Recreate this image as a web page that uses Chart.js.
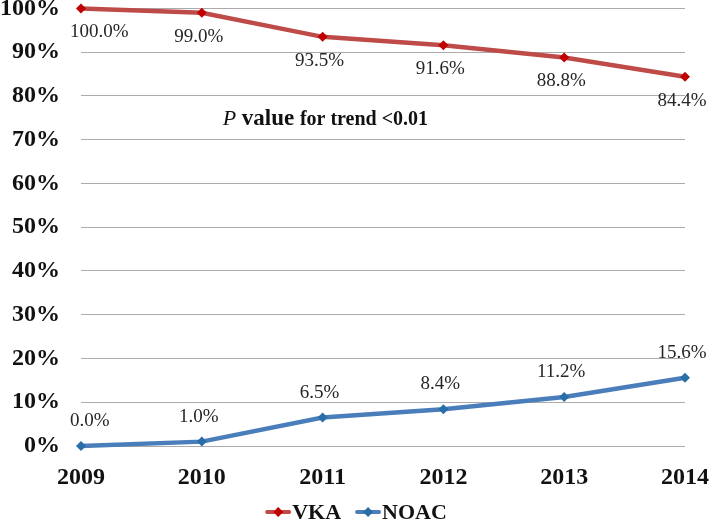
<!DOCTYPE html>
<html>
<head>
<meta charset="utf-8">
<script src="https://cdn.jsdelivr.net/npm/chart.js@4"></script>
<style>
  html,body{margin:0;padding:0;background:#fff;}
  #wrap{width:709px;height:521px;}
</style>
</head>
<body>
<div id="wrap"><canvas id="chart" width="709" height="521"></canvas></div>
<script>
// --------- данные ---------
const years=['2009','2010','2011','2012','2013','2014'];
const vka=[100.0,99.0,93.5,91.6,88.8,84.4];
const noac=[0.0,1.0,6.5,8.4,11.2,15.6];
const yTicks=[0,10,20,30,40,50,60,70,80,90,100];

const SERIF='"Liberation Serif","Times New Roman",serif';
const VKA_LINE='#BE4B48', VKA_MARK='#C00000';
const NOAC_LINE='#4A7EBB', NOAC_MARK='#2A6EA8';

// --------- подписи значений ---------
const valueLabels={
  id:'valueLabels',
  afterDatasetsDraw(chart){
    const ctx=chart.ctx;
    ctx.save();
    ctx.font='19px '+SERIF;
    ctx.fillStyle='#262626';
    ctx.textBaseline='middle';
    chart.data.datasets.forEach((ds,di)=>{
      const meta=chart.getDatasetMeta(di);
      const dy=ds.labelPos==='below'?24:-25;
      meta.data.forEach((pt,i)=>{
        const txt=ds.data[i].toFixed(1)+'%';
        if(i===0){ctx.textAlign='left';ctx.fillText(txt,pt.x-11,pt.y+dy);}
        else{ctx.textAlign='center';ctx.fillText(txt,pt.x-3,pt.y+dy);}
      });
    });
    ctx.restore();
  }
};

// --------- аннотация P value ---------
const pNote={
  id:'pNote',
  afterDraw(chart){
    const ctx=chart.ctx;
    const x0=chart.scales.x.getPixelForValue(1)+21;
    const y=chart.scales.y.getPixelForValue(75);
    const parts=[
      {t:'P ',f:'italic 22px '+SERIF},
      {t:'value ',f:'bold 23px '+SERIF},
      {t:'for trend <0.01',f:'bold 20px '+SERIF}
    ];
    ctx.save();
    ctx.fillStyle='#111';
    ctx.textBaseline='alphabetic';
    ctx.textAlign='left';
    let x=x0;
    parts.forEach(p=>{ctx.font=p.f;ctx.fillText(p.t,x,y+7);x+=ctx.measureText(p.t).width;});
    ctx.restore();
  }
};

// --------- легенда ---------
function diamond(ctx,x,y,r,col){
  ctx.fillStyle=col;
  ctx.beginPath();
  ctx.moveTo(x,y-r);ctx.lineTo(x+r,y);ctx.lineTo(x,y+r);ctx.lineTo(x-r,y);ctx.closePath();
  ctx.fill();
}
const bottomLegend={
  id:'bottomLegend',
  afterDraw(chart){
    const ctx=chart.ctx;
    ctx.save();
    ctx.font='bold 22px '+SERIF;
    const items=chart.data.datasets.map(d=>({t:d.label,c:d.borderColor,m:d.pointBackgroundColor}));
    const sym=24, gap=2, sep=15;
    let total=0;
    items.forEach((it,i)=>{it.w=ctx.measureText(it.t).width;total+=sym+gap+it.w+(i?sep:0);});
    let x=(chart.width-total)/2+2;
    const y=512;
    ctx.textBaseline='middle';ctx.textAlign='left';
    items.forEach((it,i)=>{
      if(i)x+=sep;
      ctx.strokeStyle=it.c;ctx.lineWidth=4;ctx.lineCap='round';
      ctx.beginPath();ctx.moveTo(x+1,y);ctx.lineTo(x+sym-1,y);ctx.stroke();
      diamond(ctx,x+sym/2,y,5,it.m);
      ctx.fillStyle='#111';
      ctx.fillText(it.t,x+sym+gap,y+1);
      x+=sym+gap+it.w;
    });
    ctx.restore();
  }
};

// --------- график ---------
const ctx=document.getElementById('chart').getContext('2d');
new Chart(ctx,{
  type:'line',
  data:{
    labels:years,
    datasets:[
      {label:'VKA',data:vka,borderColor:VKA_LINE,borderWidth:4.5,pointStyle:'rectRot',pointRadius:5,clip:false,
       pointBackgroundColor:VKA_MARK,pointBorderColor:VKA_MARK,pointBorderWidth:0,tension:0,labelPos:'below'},
      {label:'NOAC',data:noac,borderColor:NOAC_LINE,borderWidth:4.5,pointStyle:'rectRot',pointRadius:5,clip:false,
       pointBackgroundColor:NOAC_MARK,pointBorderColor:NOAC_MARK,pointBorderWidth:0,tension:0,labelPos:'above'}
    ]
  },
  options:{
    responsive:false,animation:false,
    layout:{padding:{top:0,right:0,bottom:15,left:0}},
    plugins:{legend:{display:false},tooltip:{enabled:false}},
    scales:{
      x:{
        offset:false,
        grid:{display:true,drawOnChartArea:false,drawTicks:true,tickLength:17,tickColor:'rgba(0,0,0,0)'},
        border:{display:false},
        ticks:{color:'#111',font:{family:SERIF,size:24,weight:'bold'},padding:0,maxRotation:0},
        afterFit(s){s.height=60;}
      },
      y:{
        min:0,max:100,
        afterBuildTicks(s){s.ticks=yTicks.map(v=>({value:v}));},
        grid:{color:'#ABABAB',lineWidth:1,drawTicks:true,tickLength:21,tickColor:'rgba(0,0,0,0)'},
        border:{display:false},
        ticks:{color:'#111',font:{family:SERIF,size:24,weight:'bold',lineHeight:0.7},padding:0,callback:v=>v+'%'},
        afterFit(s){s.width=81;}
      }
    }
  },
  plugins:[valueLabels,pNote,bottomLegend]
});
</script>
</body>
</html>
